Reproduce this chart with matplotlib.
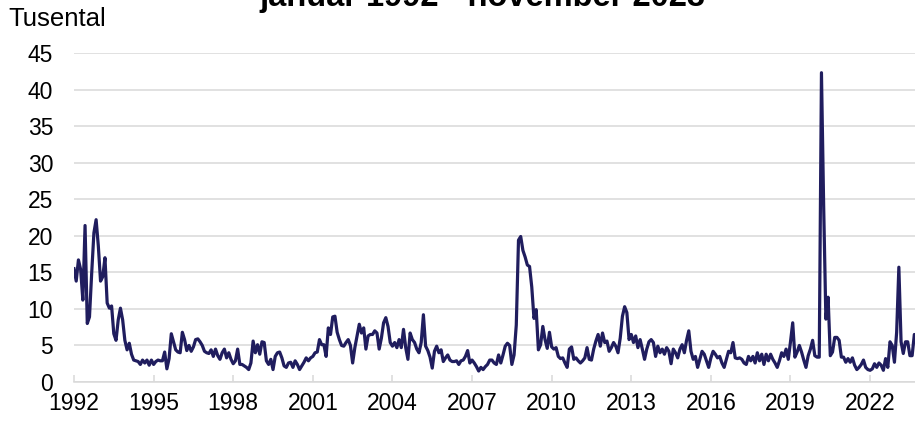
import numpy as np
import matplotlib
matplotlib.use("Agg")
import matplotlib.pyplot as plt

plt.rcParams['font.family'] = ['Liberation Sans', 'DejaVu Sans']

# Monthly values (thousands), January 1992 - November 2023
values_1992_1999 = [
    15.5, 13.8, 16.7, 15.4, 11.2, 21.4, 8.0, 8.9, 14.9, 20.4, 22.2, 18.6,
    13.8, 14.4, 17.0, 10.8, 10.1, 10.4, 6.6, 5.7, 8.5, 10.1, 8.5, 5.7,
    4.4, 5.3, 3.8, 3.0, 2.9, 2.8, 2.4, 3.0, 2.6, 3.0, 2.3, 3.0,
    2.4, 2.8, 3.0, 2.9, 2.9, 4.1, 1.8, 3.2, 6.6, 5.5, 4.4, 4.1,
    4.0, 6.8, 5.8, 4.3, 5.0, 4.2, 4.8, 5.8, 5.9, 5.5, 5.0, 4.2,
    4.0, 3.9, 4.4, 3.5, 4.5, 3.6, 3.1, 4.0, 4.5, 3.3, 4.0, 3.1,
    2.5, 2.9, 4.5, 2.4, 2.4, 2.2, 2.0, 1.7, 2.6, 5.6, 4.0, 5.1,
    3.8, 5.5, 5.4, 2.9, 2.4, 3.1, 1.7, 3.5, 4.0, 4.1, 3.3, 2.2,
]
values_2000_2009 = [
    2.0, 2.6, 2.7, 2.0, 2.9, 2.4, 1.7, 2.2, 2.7, 3.3, 2.9, 3.3,
    3.5, 4.0, 4.1, 5.8, 5.1, 5.1, 3.5, 7.4, 6.5, 8.9, 9.0, 6.8,
    5.8, 5.0, 4.9, 5.4, 5.8, 5.0, 2.6, 4.7, 6.3, 7.9, 6.7, 7.4,
    4.5, 6.3, 6.5, 6.5, 7.0, 6.7, 4.5, 6.0, 8.1, 8.8, 7.6, 5.4,
    4.9, 5.4, 4.7, 5.8, 4.7, 7.2, 4.7, 3.1, 6.7, 5.8, 5.4, 4.5,
    4.0, 5.4, 9.2, 4.9, 4.3, 3.4, 1.9, 4.2, 4.9, 4.0, 4.4, 2.8,
    3.3, 3.7, 3.0, 2.8, 2.8, 2.9, 2.4, 2.9, 3.0, 3.5, 4.3, 2.6,
    3.0, 2.6, 2.1, 1.5, 2.0, 1.7, 2.1, 2.4, 3.0, 3.0, 2.6, 2.4,
    3.7, 2.6, 3.7, 4.9, 5.3, 5.0, 2.4, 3.7, 7.8, 19.4, 19.9, 18.0,
    17.1, 16.0, 15.8, 13.0, 8.7, 9.9, 4.4, 5.1, 7.6, 5.8, 4.6, 6.8,
]
values_2010_2019 = [
    4.8, 4.5, 4.7, 3.5, 3.2, 3.3, 2.6, 2.0, 4.5, 4.8, 3.1, 3.3,
    2.9, 2.6, 2.9, 3.3, 4.7, 3.1, 3.0, 4.5, 5.6, 6.5, 4.9, 6.7,
    5.4, 5.6, 4.2, 4.7, 5.4, 4.9, 4.0, 6.0, 9.0, 10.3, 9.5, 5.8,
    6.5, 5.4, 6.3, 4.7, 5.8, 4.5, 3.1, 4.5, 5.5, 5.8, 5.4, 3.5,
    4.9, 4.0, 4.5, 3.8, 4.7, 4.2, 2.5, 4.5, 4.0, 3.3, 4.5, 5.1,
    4.0, 5.7, 7.0, 4.2, 3.1, 3.5, 2.0, 3.1, 4.2, 3.8, 2.9, 2.0,
    3.3, 4.2, 3.8, 3.3, 3.5, 2.6, 2.0, 3.1, 4.2, 4.0, 5.4, 3.3,
    3.2, 3.3, 3.1, 2.6, 2.4, 3.5, 2.9, 3.5, 2.6, 4.0, 2.9, 3.8,
    2.4, 3.8, 2.9, 3.8, 3.1, 2.6, 2.0, 2.9, 4.0, 3.5, 4.5, 3.1,
    5.5, 8.1, 3.4, 4.1, 5.0, 4.1, 3.0, 2.0, 3.6, 4.5, 5.7, 3.6,
]
values_2020_2023 = [
    3.4, 3.4, 42.3, 24.0, 8.6, 11.6, 3.6, 4.1, 6.1, 6.1, 5.7, 3.4,
    3.4, 2.7, 3.2, 2.7, 3.3, 2.3, 1.7, 2.0, 2.4, 3.0, 2.0, 1.7,
    1.6, 1.8, 2.5, 2.0, 2.6, 2.3, 1.6, 3.2, 2.0, 5.5, 5.0, 2.7,
    6.8, 15.7, 5.5, 3.9, 5.5, 5.5, 3.6, 3.6, 6.5, 6.0, 5.8,
]

tick_years = [1992, 1995, 1998, 2001, 2004, 2007, 2010, 2013, 2016, 2019, 2022]
y_ticks = [0, 5, 10, 15, 20, 25, 30, 35, 40, 45]

values = values_1992_1999 + values_2000_2009 + values_2010_2019 + values_2020_2023
months = np.arange(len(values))
tick_pos = [(y - 1992) * 12 for y in tick_years]

grid_col = '#d9d9d9'
line_col = '#201d5e'

fig = plt.figure(figsize=(9.15, 4.23), dpi=100)
ax = fig.add_axes([74 / 915, 41 / 423, 841 / 915, 329 / 423])

ax.plot(months, values, color=line_col, lw=2.3, solid_joinstyle='round')

ax.set_xlim(0, 380.3)
ax.set_ylim(0, 45)
ax.set_xticks(tick_pos)
ax.set_xticklabels([str(y) for y in tick_years])
ax.set_yticks(y_ticks)

ax.yaxis.grid(True, color=grid_col, lw=1.1)
ax.set_axisbelow(True)
for side in ['top', 'right', 'left']:
    ax.spines[side].set_visible(False)
ax.spines['bottom'].set_color(grid_col)
ax.spines['bottom'].set_linewidth(1.1)

ax.tick_params(axis='y', length=0, pad=15, labelsize=16.5)
ax.tick_params(axis='x', direction='in', length=5, width=1.1, color=grid_col,
               pad=7, labelsize=16.5)

fig.text(8 / 915, 1 - 7 / 423, 'Tusental', ha='left', va='top', fontsize=18.5)
fig.text(482 / 915, 1 - 6 / 423, 'januar 1992 - november 2023', ha='center',
         va='baseline', fontsize=23.5, fontweight='bold')

fig.savefig('out.png', dpi=100)
